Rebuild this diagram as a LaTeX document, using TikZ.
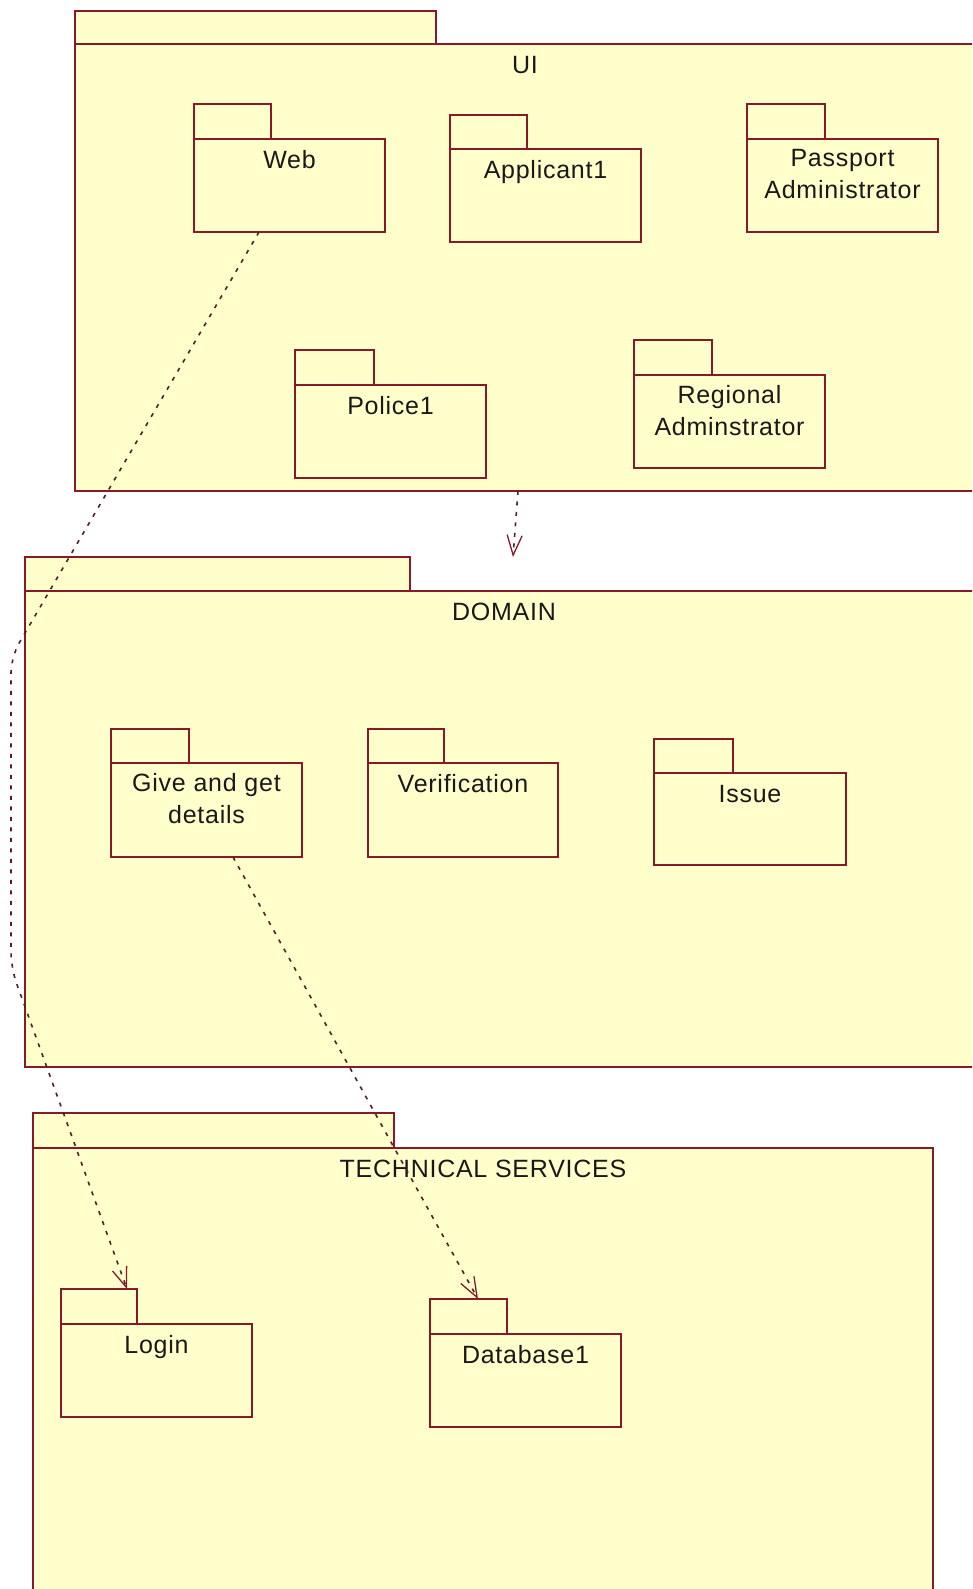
\documentclass[tikz,border=0pt]{standalone}
\usepackage{fontspec}
\setmainfont{Liberation Sans}[LetterSpace=3]
\usetikzlibrary{arrows.meta,calc}

\definecolor{pkgline}{RGB}{135,25,40}
\definecolor{pkgfill}{RGB}{255,255,204}
\definecolor{depline}{RGB}{85,30,38}

\tikzset{
  pkgshape/.style={rectangle, draw=pkgline, fill=pkgfill, line width=1.6pt,
                   inner sep=0pt, outer sep=0pt},
  pkgtab/.style={pkgshape},
  pkgbody/.style={pkgshape},
  % the first line gets a fixed-height strut so that the north anchor
  % sits a constant distance above the first baseline
  pkglabel/.style={font=\fontsize{25}{32}\selectfont, align=center,
                   anchor=north, inner sep=0pt, text=black!90,
                   execute at begin node={\rule{0pt}{19pt}}},
  dep/.style={draw=depline, line width=1.6pt, dash pattern=on 4pt off 6.5pt,
              -{Straight Barb[length=20pt,width=15pt,line width=1.3pt,color=pkgline]}},
}

% UML package: name, x, y (top-left of tab), tab width, tab height,
% body width, body height, label
\newcommand\pkgnode[8]{%
  \node[pkgtab, minimum width=#4pt, minimum height=#5pt, anchor=north west]
    (#1-tab) at (#2,#3) {};
  \node[pkgbody, minimum width=#6pt, minimum height=#7pt, anchor=north west]
    (#1) at (#1-tab.south west) {};
  \node[pkglabel] (#1-label) at ($(#1.north)+(0,10)$) {#8};
}

\begin{document}
\begin{tikzpicture}[x=1pt,y=-1pt]
  \useasboundingbox (0,0) rectangle (972,1589);
  \clip (0,0) rectangle (972,1589);

  % UI layer
  \pkgnode{ui}{75}{11}{361}{33}{900}{447}{UI}
  \pkgnode{web}{194}{104}{77}{35}{191}{93}{Web}
  \pkgnode{applicant}{450}{115}{77}{34}{191}{93}{Applicant1}
  \pkgnode{passport}{747}{104}{78}{35}{191}{93}{Passport\\Administrator}
  \pkgnode{police}{295}{350}{79}{35}{191}{93}{Police1}
  \pkgnode{regional}{634}{340}{78}{35}{191}{93}{Regional\\Adminstrator}

  % DOMAIN layer
  \pkgnode{domain}{25}{557}{385}{34}{958}{476}{DOMAIN}
  \pkgnode{give}{111}{729}{78}{34}{191}{94}{Give and get\\details}
  \pkgnode{verification}{368}{729}{76}{34}{190}{94}{Verification}
  \pkgnode{issue}{654}{739}{79}{34}{192}{92}{Issue}

  % TECHNICAL SERVICES layer
  \pkgnode{tech}{33}{1113}{361}{35}{900}{480}{TECHNICAL SERVICES}
  \pkgnode{login}{61}{1289}{76}{35}{191}{93}{Login}
  \pkgnode{database}{430}{1299}{77}{35}{191}{93}{Database1}

  % dependencies
  \coordinate (bendA) at (11,657);
  \coordinate (bendB) at (11,968);
  \coordinate (domtip) at (513,557);

  \draw[dep, rounded corners=16pt] ($(web.south west)+(65,0)$) -- (bendA) -- (bendB)
    -- ($(login-tab.north west)+(66,0)$);
  \draw[dep] ($(ui.south)+(-7,0)$) -- (domtip);
  \draw[dep] ($(give.south west)+(122,0)$) -- ($(database-tab.north west)+(48,0)$);
\end{tikzpicture}
\end{document}
